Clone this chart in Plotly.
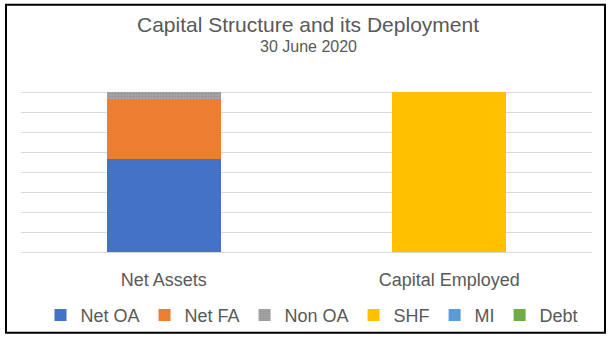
import plotly.graph_objects as go

# Balance-sheet view: what the business owns vs. how it is funded
categories = ["Net Assets", "Capital Employed"]

net_oa = [463, None]
net_fa = [297, None]
non_oa = [40, None]
shf = [None, 800]
mi = [None, 0]
debt = [None, 0]

y_max = 905
y_step = 100

W, H = 614, 346
L, R, T, B = 21, 22, 71, 89

TEXT = "#595959"
FONT = "Liberation Sans, Arial, sans-serif"

fig = go.Figure()

def add_series(name, values, color, pattern=None):
    marker = dict(color=color, line=dict(width=0))
    if pattern:
        marker["pattern"] = pattern
    fig.add_trace(go.Bar(name=name, x=categories, y=values, marker=marker,
                         width=0.4, hoverinfo="skip"))

add_series("Net OA", net_oa, "#4472C4")
add_series("Net FA", net_fa, "#ED7D31")
add_series("Non OA", non_oa, "#A5A5A5",
           pattern=dict(shape=".", fgcolor="#808080", size=3, solidity=0.35,
                        fillmode="overlay"))
add_series("SHF", shf, "#FFC000")
add_series("MI", mi, "#5B9BD5")
add_series("Debt", debt, "#70AD47")

pw, ph = W - L - R, H - T - B

def py(pix):
    return (H - B - pix) / ph

def px(pix):
    return (pix - L) / pw

# outer frame around the chart area
fig.add_shape(type="rect", xref="paper", yref="paper",
              x0=px(6), x1=px(605), y0=py(340), y1=py(3),
              line=dict(color="black", width=2), fillcolor="rgba(0,0,0,0)",
              layer="above")

fig.add_annotation(text="Capital Structure and its Deployment", xref="paper",
                   yref="paper", x=px(308), y=py(23), showarrow=False,
                   xanchor="center", yanchor="middle",
                   font=dict(size=21, color=TEXT, family=FONT))
fig.add_annotation(text="30 June 2020", xref="paper", yref="paper",
                   x=px(308), y=py(46), showarrow=False,
                   xanchor="center", yanchor="middle",
                   font=dict(size=16, color=TEXT, family=FONT))

fig.update_layout(
    width=W, height=H,
    margin=dict(l=L, r=R, t=T, b=B, pad=0),
    barmode="stack",
    paper_bgcolor="white", plot_bgcolor="white",
    font=dict(family=FONT, color=TEXT, size=18),
    showlegend=True,
    legend=dict(orientation="h", x=px(312), xanchor="center", y=py(322),
                yanchor="middle", traceorder="normal",
                font=dict(size=18, color=TEXT, family=FONT),
                itemwidth=30, bgcolor="rgba(0,0,0,0)"),
    xaxis=dict(showline=False, ticks="", tickfont=dict(size=18, color=TEXT),
               showgrid=False, ticklabelstandoff=15),
    yaxis=dict(range=[0, y_max], dtick=y_step, showticklabels=False,
               showgrid=True, gridcolor="#D9D9D9", gridwidth=1,
               zeroline=True, zerolinecolor="#D9D9D9", zerolinewidth=1,
               ticks=""),
)

fig.write_html("out.html")
